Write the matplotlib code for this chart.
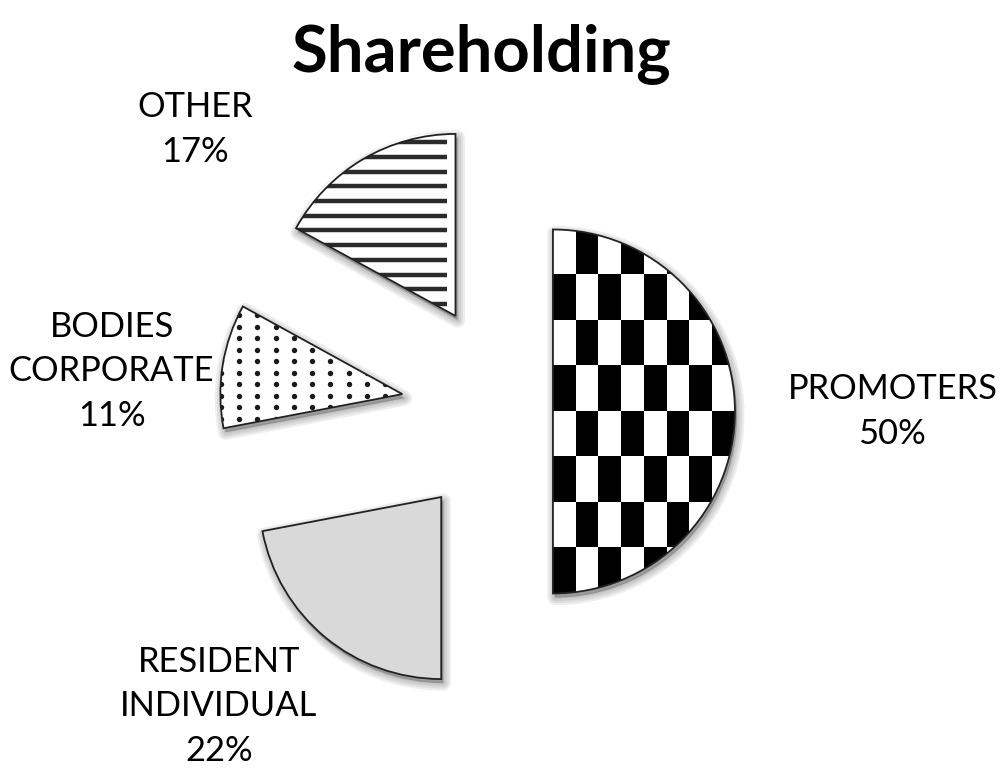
import numpy as np
import matplotlib
matplotlib.use("Agg")
import matplotlib.pyplot as plt

# shareholding split, clockwise from 12 o'clock
names = ["PROMOTERS", "RESIDENT\nINDIVIDUAL", "BODIES\nCORPORATE", "OTHER"]
shares = [50, 22, 11, 17]
explode = [0.225, 0.61, 0.61, 0.61]

# label anchor points, in pie radius units
label_xy = [(2.09, 0.0), (-1.61, -1.62), (-2.20, 0.22), (-1.74, 1.55)]

R_PX = 182.0          # pie radius in pixels
CX, CY = 512.0, 411.5  # pie centre in pixels (from top-left)
W, H = 1001, 771

fig = plt.figure(figsize=(W / 100, H / 100), dpi=100)
ax = fig.add_axes([0, 0, 1, 1])

# soft drop shadow: a few stacked translucent copies, nudged down-right
px = 1.0 / R_PX
for lw in [11, 8, 5, 2]:
    ax.pie(shares, explode=explode, startangle=90, counterclock=False,
           center=(2 * px, -4 * px),
           wedgeprops=dict(facecolor=(0, 0, 0, 0.065), edgecolor=(0, 0, 0, 0.065),
                           linewidth=lw, joinstyle="round"))

wedges, _ = ax.pie(shares, explode=explode, startangle=90, counterclock=False,
                   colors=["white", "#d9d9d9", "white", "white"],
                   wedgeprops=dict(edgecolor="#222222", linewidth=1.3))
for w in wedges:
    w.set_zorder(3)

# PROMOTERS: stretched checker board clipped to its wedge
wp = wedges[0]
xp, yp = wp.center
board = np.indices((8, 8)).sum(axis=0) % 2
im = ax.imshow(board, cmap="gray_r", interpolation="nearest", origin="upper",
               extent=[xp, xp + 1, yp - 1, yp + 1], zorder=2.5, vmin=0, vmax=1)
im.set_clip_path(wp)
wp.set_facecolor("none")
wp.set_zorder(4)

# white backing for the patterned slices (drawn over the shadow)
def backing(w):
    bg = plt.Polygon(w.get_path().vertices, closed=True, transform=w.get_transform(),
                     facecolor="white", edgecolor="none", zorder=3.5)
    ax.add_patch(bg)
    w.set_facecolor("none")
    w.set_zorder(5)

# BODIES CORPORATE: grid of small dots
wb = wedges[2]
xb, yb = wb.center
gx = np.arange(xb - 1.0, xb + 0.05, 18.3 * px) + 0.3 * px
gy = np.arange(yb - 0.6, yb + 0.6, 11.5 * px) + 4 * px
dx, dy = np.meshgrid(gx, gy)
dots = ax.scatter(dx.ravel(), dy.ravel(), s=15, color="#1a1a1a", linewidths=0, zorder=4)
dots.set_clip_path(wb)
backing(wb)

# OTHER: horizontal stripes, stopping short of the vertical edge
wo = wedges[3]
xo, yo = wo.center
ly = np.arange(yo + 0.0, yo + 1.0, 14.7 * px) + 12 * px
stripes = ax.hlines(ly, xo - 1.0, xo - 8 * px, colors="#2a2a2a", linewidth=3.2, zorder=4)
stripes.set_clip_path(wo)
backing(wo)

for name, v, (lx, ly_) in zip(names, shares, label_xy):
    ax.text(lx, ly_, f"{name}\n{v}%", ha="center", va="center", fontsize=24.8,
            family="Lato", linespacing=1.47, color="black", zorder=6)

fig.text(481 / W, 1 - 72 / H, "Shareholding", ha="center", va="baseline",
         fontsize=47, fontweight="bold", family="Lato")

ax.set_xlim(-CX / R_PX, (W - CX) / R_PX)
ax.set_ylim(-(H - CY) / R_PX, CY / R_PX)
ax.set_aspect("equal")
ax.axis("off")

fig.savefig("out.png", dpi=100)
